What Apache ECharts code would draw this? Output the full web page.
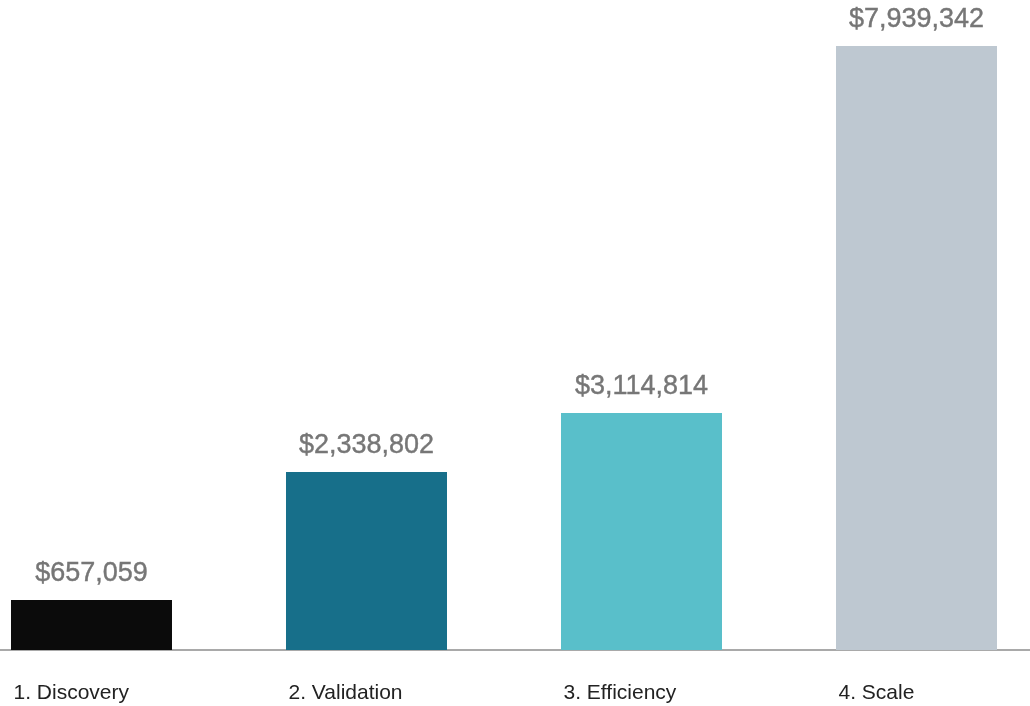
<!DOCTYPE html>
<html>
<head>
<meta charset="utf-8">
<script src="https://cdn.jsdelivr.net/npm/echarts@6/dist/echarts.min.js"></script>
<style>
html,body{margin:0;padding:0;background:#fff;}
#chart{width:1030px;height:706px;}
</style>
</head>
<body>
<div id="chart"></div>
<script>
var categories = ['1. Discovery', '2. Validation', '3. Efficiency', '4. Scale'];
var values = [657059, 2338802, 3114814, 7939342];
var colors = ['#0b0b0b', '#176f8a', '#59bfca', '#bec8d1'];
var positions = [0, 1, 2, 3];

var chart = echarts.init(document.getElementById('chart'), null, {renderer: 'canvas'});
var font = 'Liberation Sans, Arial, Helvetica, sans-serif';
chart.setOption({
  animation: false,
  grid: {left: 0, right: 0, top: 46, bottom: 56, containLabel: false},
  xAxis: {
    type: 'value',
    min: -0.3327,
    max: 3.4127,
    splitLine: {show: false},
    axisLine: {show: true, onZero: false, lineStyle: {color: '#a9a9a9', width: 2}},
    axisTick: {show: false},
    axisLabel: {
      show: true,
      customValues: positions,
      margin: 33,
      align: 'center',
      formatter: function (v) { return '{a|' + categories[Math.round(v)] + '}'; },
      rich: {a: {width: 162, padding: [0, 0, 0, 6], align: 'left', fontSize: 21, color: '#222', fontFamily: font}}
    }
  },
  yAxis: {
    type: 'value',
    min: 0,
    max: 'dataMax',
    show: false,
    splitLine: {show: false}
  },
  series: [{
    type: 'bar',
    barWidth: 161,
    data: values.map(function (v, i) { return {value: [positions[i], v], itemStyle: {color: colors[i]}}; }),
    label: {
      show: true,
      position: 'top',
      distance: 13,
      color: '#767676',
      fontSize: 27,
      fontFamily: font,
      textBorderColor: '#767676',
      textBorderWidth: 0.4,
      formatter: function (p) { return '$' + p.value[1].toLocaleString('en-US'); }
    }
  }]
});
</script>
</body>
</html>
